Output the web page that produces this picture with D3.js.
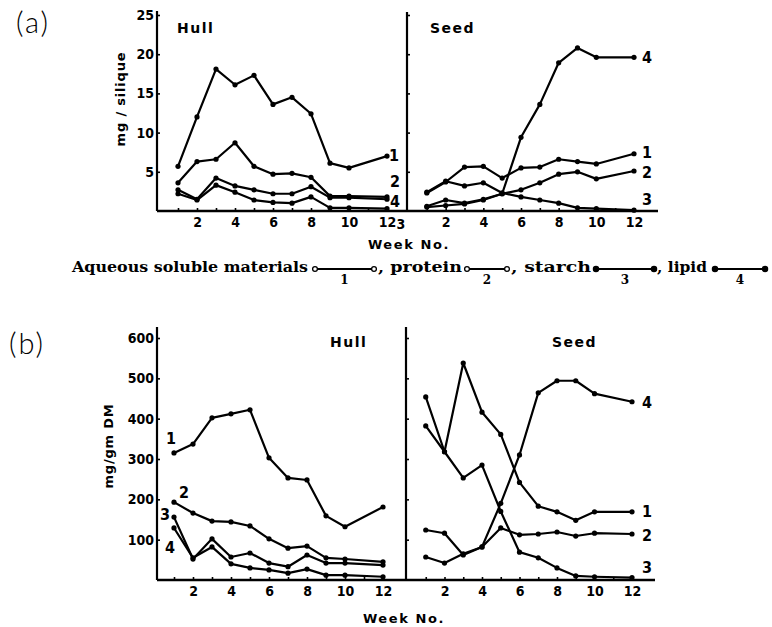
<!DOCTYPE html>
<html>
<head>
<meta charset="utf-8">
<script src="https://cdn.jsdelivr.net/npm/d3@7"></script>
<style>
  html, body { margin: 0; padding: 0; background: #fff; }
  svg { display: block; }
  .tick text { font-family: "DejaVu Sans Condensed", "DejaVu Sans", sans-serif; font-weight: bold; font-size: 14px; fill: #000; }
  .tick line { stroke: #000; stroke-width: 1.6; }
</style>
</head>
<body>
<svg id="chart" width="772" height="627"></svg>
<script>
// Sampling weeks (no sample taken in week 11)
const weeks = [1, 2, 3, 4, 5, 6, 7, 8, 9, 10, 12];

// (a) content per silique, mg/silique — hull
const hullA_aqueous = [5.7, 12.0, 18.1, 16.1, 17.3, 13.6, 14.5, 12.4, 6.1, 5.5, 7.0];
const hullA_protein = [3.6, 6.3, 6.6, 8.7, 5.7, 4.7, 4.8, 4.3, 1.9, 1.9, 1.8];
const hullA_starch  = [2.7, 1.5, 4.2, 3.2, 2.7, 2.2, 2.2, 3.1, 1.7, 1.7, 1.5];
const hullA_lipid   = [2.2, 1.4, 3.3, 2.4, 1.4, 1.1, 1.0, 1.8, 0.4, 0.4, 0.3];

// (a) content per silique, mg/silique — seed
const seedA_aqueous = [2.3, 3.7, 5.6, 5.7, 4.2, 5.5, 5.6, 6.6, 6.3, 6.0, 7.3];
const seedA_protein = [0.6, 1.4, 1.0, 1.5, 2.2, 2.7, 3.6, 4.7, 5.0, 4.1, 5.1];
const seedA_starch  = [2.4, 3.8, 3.2, 3.6, 2.3, 1.8, 1.4, 1.0, 0.4, 0.3, 0.1];
const seedA_lipid   = [0.5, 0.7, 0.9, 1.4, 2.2, 9.4, 13.6, 18.9, 20.8, 19.6, 19.6];

// (b) concentration, mg/gm dry matter — hull
const hullB_aqueous = [315, 337, 402, 412, 422, 303, 253, 248, 159, 132, 181];
const hullB_protein = [193, 166, 146, 144, 134, 102, 79, 84, 55, 52, 45];
const hullB_starch  = [156, 52, 102, 57, 67, 42, 33, 62, 42, 42, 37];
const hullB_lipid   = [129, 55, 82, 40, 30, 25, 17, 27, 12, 12, 8];

// (b) concentration, mg/gm dry matter — seed
const seedB_aqueous = [382, 318, 538, 416, 361, 242, 183, 169, 148, 169, 169];
const seedB_protein = [124, 116, 62, 82, 129, 112, 114, 119, 109, 116, 114];
const seedB_starch  = [454, 318, 253, 285, 170, 69, 55, 30, 10, 8, 6];
const seedB_lipid   = [57, 42, 65, 82, 190, 310, 464, 494, 494, 462, 442];

// Axis tick values
const weekTicks = [1, 2, 3, 4, 5, 6, 7, 8, 9, 10, 11, 12];
const ticksA = [5, 10, 15, 20, 25];
const ticksB = [100, 200, 300, 400, 500, 600];

// Legend entries
const legendNames = ["Aqueous soluble materials", ", protein", ", starch", ", lipid"];
const legendNumbers = ["1", "2", "3", "4"];

const svg = d3.select("#chart");
const sans = '"DejaVu Sans", sans-serif';
const cond = '"DejaVu Sans Condensed", "DejaVu Sans", sans-serif';

const line = (x, y) => d3.line().x((d, i) => x(weeks[i])).y(d => y(d));

function drawSeries(g, x, y, values) {
  g.append("path")
    .datum(values)
    .attr("d", line(x, y))
    .attr("fill", "none")
    .attr("stroke", "#000")
    .attr("stroke-width", 2.2)
    .attr("stroke-linejoin", "round");
  g.selectAll(null).data(values).enter().append("circle")
    .attr("cx", (d, i) => x(weeks[i]))
    .attr("cy", d => y(d))
    .attr("r", 2.6)
    .attr("fill", "#000");
}

function yAxis(g, y, ax, ticks, labelled, top) {
  const a = d3.axisLeft(y).tickValues(ticks).tickSizeInner(-3).tickSizeOuter(0).tickPadding(3)
    .tickFormat(labelled ? d3.format("d") : () => "");
  const gg = g.append("g").attr("transform", `translate(${ax},0)`).call(a);
  gg.select(".domain").remove();
  g.append("line").attr("x1", ax).attr("x2", ax).attr("y1", y(0)).attr("y2", top)
    .attr("stroke", "#000").attr("stroke-width", 2.2);
}

function xAxis(g, x, y0) {
  const a = d3.axisBottom(x).tickValues(weekTicks).tickSizeInner(-3).tickSizeOuter(0).tickPadding(6)
    .tickFormat(d => d % 2 === 0 ? d : "");
  const gg = g.append("g").attr("transform", `translate(0,${y0})`).call(a);
  gg.select(".domain").remove();
}

function label(g, x, y, t, size, opts = {}) {
  return g.append("text").attr("x", x).attr("y", y).text(t)
    .attr("font-family", opts.family || sans)
    .attr("font-weight", opts.weight || "bold")
    .attr("font-size", size)
    .attr("text-anchor", opts.anchor || "start")
    .attr("letter-spacing", opts.ls || 0)
    .attr("dominant-baseline", "central");
}

// ---------- (a) mg per silique ----------
const gA = svg.append("g");
const yA = d3.scaleLinear().domain([0, 25]).range([211, 15]);
const xHullA = d3.scaleLinear().domain([0, 12]).range([159, 387]);
const xSeedA = d3.scaleLinear().domain([0, 12]).range([408, 634]);

gA.append("line").attr("x1", 157).attr("x2", 658).attr("y1", yA(0)).attr("y2", yA(0))
  .attr("stroke", "#000").attr("stroke-width", 2.4);
yAxis(gA, yA, 157, ticksA, true, 11);
yAxis(gA, yA, 407, ticksA, false, 12);
xAxis(gA, xHullA, yA(0));
xAxis(gA, xSeedA, yA(0));
label(gA, 401, 224, "3", 14, { family: cond, anchor: "middle" });

[hullA_aqueous, hullA_protein, hullA_starch, hullA_lipid].forEach(v => drawSeries(gA, xHullA, yA, v));
[seedA_aqueous, seedA_protein, seedA_starch, seedA_lipid].forEach(v => drawSeries(gA, xSeedA, yA, v));

label(gA, 16, 21, "(a)", 29, { family: "Lato, sans-serif", weight: 300, ls: 2 });
label(gA, 177, 28, "Hull", 14, { ls: 1.5 });
label(gA, 430, 28, "Seed", 14, { ls: 1.5 });
label(gA, 409, 244, "Week No.", 13, { anchor: "middle", ls: 1.6 });
gA.append("text").attr("transform", "translate(120,99) rotate(-90)")
  .attr("text-anchor", "middle").attr("dominant-baseline", "central")
  .attr("font-family", sans).attr("font-weight", "bold").attr("font-size", 13)
  .attr("letter-spacing", 0.8).text("mg / silique");

// series numbers at the line ends
[["1", 389, 155], ["2", 390, 181], ["4", 390, 201]].forEach(([t, x, y]) => label(gA, x, y, t, 16, { family: cond }));
[["4", 642, 57], ["1", 642, 152], ["2", 642, 172], ["3", 642, 199]].forEach(([t, x, y]) => label(gA, x, y, t, 16, { family: cond }));

// ---------- legend ----------
const gL = svg.append("g");
const legendText = [[72, 236], [378, 84], [511, 80], [657, 50]];
const legendSym = [[312, 377, true], [464, 510, true], [593, 657, false], [712, 768, false]];
legendNames.forEach((n, i) => {
  gL.append("text").attr("x", legendText[i][0]).attr("y", 272).text(n)
    .attr("font-family", '"DejaVu Serif", serif').attr("font-weight", "bold").attr("font-size", 14)
    .attr("textLength", legendText[i][1]).attr("lengthAdjust", "spacingAndGlyphs");
  const [a, b, open] = legendSym[i];
  gL.append("line").attr("x1", a + 3).attr("x2", b - 3).attr("y1", 269).attr("y2", 269)
    .attr("stroke", "#000").attr("stroke-width", 1.8);
  [a + 3, b - 3].forEach(cx => gL.append("circle").attr("cx", cx).attr("cy", 269).attr("r", open ? 2.4 : 2.6)
    .attr("fill", open ? "#fff" : "#000").attr("stroke", "#000").attr("stroke-width", 1.3));
  gL.append("text").attr("x", (a + b) / 2).attr("y", 284).text(legendNumbers[i])
    .attr("text-anchor", "middle").attr("font-family", '"DejaVu Serif", serif')
    .attr("font-weight", "bold").attr("font-size", 12);
});

// ---------- (b) mg per gram dry matter ----------
const gB = svg.append("g");
const yB = d3.scaleLinear().domain([0, 600]).range([580, 338]);
const xHullB = d3.scaleLinear().domain([0, 12]).range([155, 383]);
const xSeedB = d3.scaleLinear().domain([0, 12]).range([407, 632]);

gB.append("line").attr("x1", 157).attr("x2", 655).attr("y1", yB(0)).attr("y2", yB(0))
  .attr("stroke", "#000").attr("stroke-width", 2.4);
yAxis(gB, yB, 157, ticksB, true, 327);
yAxis(gB, yB, 406, ticksB, false, 327);
xAxis(gB, xHullB, yB(0));
xAxis(gB, xSeedB, yB(0));

[hullB_aqueous, hullB_protein, hullB_starch, hullB_lipid].forEach(v => drawSeries(gB, xHullB, yB, v));
[seedB_aqueous, seedB_protein, seedB_starch, seedB_lipid].forEach(v => drawSeries(gB, xSeedB, yB, v));

label(gB, 9, 342, "(b)", 29, { family: "Lato, sans-serif", weight: 300, ls: 2 });
label(gB, 330, 342, "Hull", 14, { ls: 1.5 });
label(gB, 552, 342, "Seed", 14, { ls: 1.5 });
label(gB, 404, 618, "Week No.", 13, { anchor: "middle", ls: 1.6 });
gB.append("text").attr("transform", "translate(108,446) rotate(-90)")
  .attr("text-anchor", "middle").attr("dominant-baseline", "central")
  .attr("font-family", sans).attr("font-weight", "bold").attr("font-size", 13)
  .attr("letter-spacing", 0.8).text("mg/gm DM");

[["1", 171, 438], ["2", 184, 492], ["3", 165, 514], ["4", 170, 547]].forEach(([t, x, y]) => label(gB, x, y, t, 16, { family: cond, anchor: "middle" }));
[["4", 642, 402], ["1", 642, 511], ["2", 642, 535], ["3", 642, 567]].forEach(([t, x, y]) => label(gB, x, y, t, 16, { family: cond }));
</script>
</body>
</html>
